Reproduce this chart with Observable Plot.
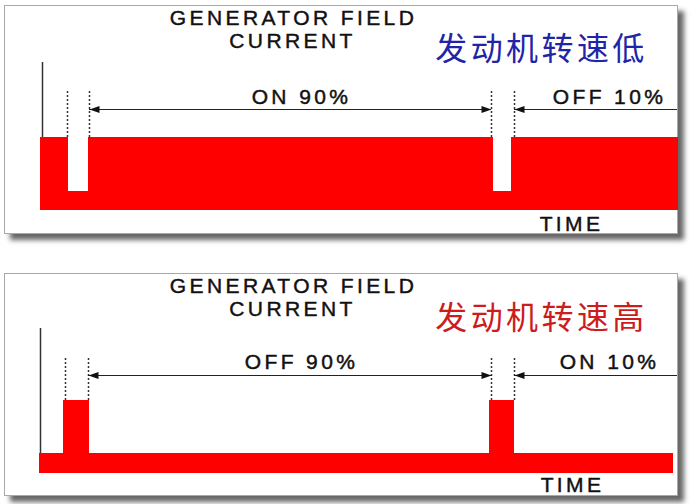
<!DOCTYPE html>
<html><head><meta charset="utf-8">
<script src="https://cdn.jsdelivr.net/npm/d3@7"></script>
<script src="https://cdn.jsdelivr.net/npm/@observablehq/plot@0.6"></script>
<style>
body{margin:0;background:#fff;}
#wrap{position:relative;width:692px;height:504px;overflow:hidden;background:#fff;}
.box{position:absolute;background:#fff;border:1.5px solid #a8a8a8;box-shadow:6px 6px 5px rgba(0,0,0,0.6);box-sizing:border-box;}
.panel{position:absolute;left:0;}
</style></head>
<body><div id="wrap">
<div class="box" style="left:4px;top:5px;width:674px;height:229px"></div>
<div class="box" style="left:4px;top:273px;width:674px;height:223px"></div>
<div class="panel" id="p1" style="top:0"></div>
<div class="panel" id="p2" style="top:250px"></div>
</div>
<script>
// ---- data (time in arbitrary units, current level in arbitrary units) ----
const titleLines = ["GENERATOR FIELD", "CURRENT"];
const axisLabel = "TIME";
const panelNames = ["发动机转速低", "发动机转速高"];

// low engine speed: field current mostly ON
const lowTime   = [0, 28, 48, 453, 471, 638];
const lowLevel  = [73, 19, 73, 19, 73, 73];
const lowBounds = [27, 49, 451, 474];
const lowLabels = ["ON 90%", "OFF 10%"];

// high engine speed: field current mostly OFF
const highTime   = [-1, 23, 49, 449, 474, 633];
const highLevel  = [20, 73, 20, 73, 20, 20];
const highBounds = [25, 48, 451, 474];
const highLabels = ["OFF 90%", "ON 10%"];

const LATIN = '"Liberation Sans", Arial, sans-serif';
const CJK = '"Noto Sans CJK SC", sans-serif';

function panel(o) {
  const signal = o.time.map((t, i) => ({t, v: o.level[i]}));
  const b = o.bounds;
  const heads = [
    {t: b[1], rot: -90},
    {t: b[2], rot: 90},
    {t: b[3], rot: -90}
  ];
  const texts = [
    {t: 253, v: o.titleY, s: titleLines[0]},
    {t: 252, v: o.titleY - 23, s: titleLines[1]},
    {t: 261, v: o.labelY, s: o.labels[0]},
    {t: 569, v: o.labelY, s: o.labels[1]},
    {t: o.timeX, v: o.timeY, s: axisLabel}
  ];
  return Plot.plot({
    width: 692, height: o.height,
    marginLeft: 40, marginRight: 12, marginTop: 0, marginBottom: o.height - o.floor,
    x: {domain: [0, 640], axis: null},
    y: {domain: [0, o.floor], axis: null},
    style: {background: "transparent", overflow: "visible", fontFamily: LATIN, letterSpacing: "3.4px"},
    marks: [
      Plot.ruleX([o.axisT], {y1: 0, y2: o.axisTop, stroke: "#333", strokeWidth: 1.5}),
      Plot.areaY(signal, {x: "t", y: "v", curve: "step-after", fill: "#ff0000"}),
      Plot.ruleX(b, {y1: 73, y2: o.boundTop, stroke: "#333", strokeWidth: 1.5, strokeDasharray: "2,2"}),
      Plot.ruleY([o.arrowY], {x1: b[1], x2: b[2], stroke: "#222", strokeWidth: 1.2}),
      Plot.ruleY([o.arrowY], {x1: b[3], x2: 637, stroke: "#222", strokeWidth: 1.2}),
      Plot.vector(heads, {x: "t", y: o.arrowY, rotate: "rot", anchor: "end", shape: "spike",
        length: 10, r: 3.5, fill: "#111", stroke: "none"}),
      Plot.text(texts, {x: "t", y: "v", text: "s", fontSize: 21, fill: "#111",
        stroke: "#111", strokeWidth: 0.45, textAnchor: "middle", lineAnchor: "bottom"}),
      Plot.text([o.name], {x: 501, y: o.cnY, text: d => d, fontSize: 32, fill: o.cnColor,
        fontFamily: CJK, textAnchor: "middle", lineAnchor: "bottom"})
    ]
  });
}

document.getElementById("p1").appendChild(panel({
  height: 250, floor: 210, time: lowTime, level: lowLevel, bounds: lowBounds,
  axisT: 2, axisTop: 148, boundTop: 120, arrowY: 101,
  labels: lowLabels, labelY: 107, titleY: 186, timeX: 531, timeY: -20,
  name: panelNames[0], cnColor: "#2224a8", cnY: 151
}));
document.getElementById("p2").appendChild(panel({
  height: 254, floor: 223, time: highTime, level: highLevel, bounds: highBounds,
  axisT: 0, axisTop: 145, boundTop: 117, arrowY: 98,
  labels: highLabels, labelY: 105, titleY: 181, timeX: 532, timeY: -18,
  name: panelNames[1], cnColor: "#cc1c1c", cnY: 145
}));
</script>
</body></html>
